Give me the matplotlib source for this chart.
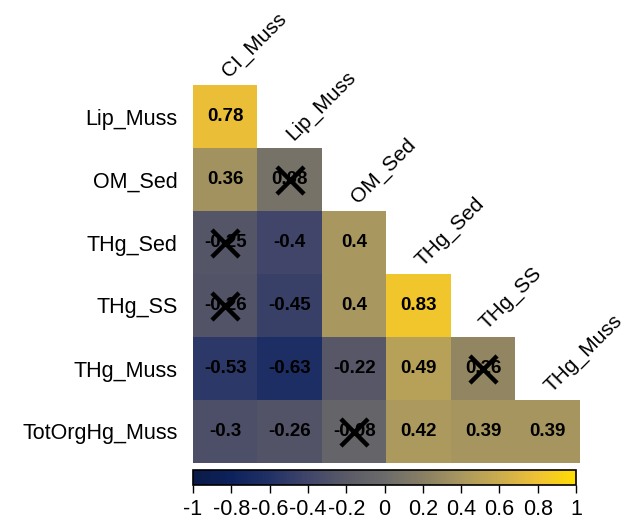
import matplotlib
matplotlib.use('Agg')
import matplotlib.pyplot as plt
from matplotlib.colors import LinearSegmentedColormap
import numpy as np

plt.rcParams['font.family'] = ['Liberation Sans', 'DejaVu Sans']

# correlation data (lower triangle)
row_names = ['Lip_Muss', 'OM_Sed', 'THg_Sed', 'THg_SS', 'THg_Muss', 'TotOrgHg_Muss']
col_names = ['CI_Muss', 'Lip_Muss', 'OM_Sed', 'THg_Sed', 'THg_SS', 'THg_Muss']
r_lip_muss = [0.78]
r_om_sed = [0.36, 0.08]
r_thg_sed = [-0.25, -0.4, 0.4]
r_thg_ss = [-0.26, -0.45, 0.4, 0.83]
r_thg_muss = [-0.53, -0.63, -0.22, 0.49, 0.26]
r_totorghg = [-0.3, -0.26, -0.08, 0.42, 0.39, 0.39]
# cells that are not significant (row, col)
not_sig = [(1, 1), (2, 0), (3, 0), (4, 4), (5, 2)]
cbar_ticks = [-1, -0.8, -0.6, -0.4, -0.2, 0, 0.2, 0.4, 0.6, 0.8, 1]

rows = [r_lip_muss, r_om_sed, r_thg_sed, r_thg_ss, r_thg_muss, r_totorghg]
n = len(row_names)
mat = np.full((n, n), np.nan)
for i, r in enumerate(rows):
    mat[i, :len(r)] = r
mat = np.ma.masked_invalid(mat)

stops = [(0.0, '#0a1a48'), (0.1, '#0d225c'), (0.2, '#213166'), (0.3, '#41466a'),
         (0.4, '#5a5a67'), (0.5, '#6b6b6b'), (0.6, '#877e64'), (0.7, '#a8975f'),
         (0.8, '#caac4e'), (0.9, '#efc136'), (1.0, '#ffdc00')]
cmap = LinearSegmentedColormap.from_list('navy_gold', stops)
cmap.set_bad('white')

W, H = 629, 521
fig = plt.figure(figsize=(W / 100, H / 100), dpi=100)
ax = fig.add_axes([193 / W, (H - 463) / H, 387 / W, 378 / H])
im = ax.imshow(mat, cmap=cmap, vmin=-1, vmax=1, aspect='auto',
               extent=(-0.5, n - 0.5, n - 0.5, -0.5), interpolation='nearest')
ax.set_xlim(-0.5, n - 0.5)
ax.set_ylim(n - 0.5, -0.5)
for s in ax.spines.values():
    s.set_visible(False)
ax.set_xticks([])
ax.set_yticks(range(n))
ax.set_yticklabels(row_names, fontsize=15.5)
ax.tick_params(axis='y', length=0, pad=11)

# coefficient labels
for i, r in enumerate(rows):
    for j, v in enumerate(r):
        ax.text(j, i, f'{v:g}', ha='center', va='center', fontsize=13.5,
                fontweight='bold', color='black')

# crosses over non-significant cells
xs = [c for (r, c) in not_sig]
ys = [r for (r, c) in not_sig]
ax.scatter(xs, ys, marker='x', s=380, c='black', linewidths=3.2, zorder=5)

# column names along the diagonal
for j, name in enumerate(col_names):
    ax.text(j + 0.1, j - 0.56, name, rotation=45, rotation_mode='anchor',
            ha='left', va='bottom', fontsize=15, clip_on=False)

cax = fig.add_axes([193 / W, (H - 485) / H, 383 / W, 15 / H])
cb = fig.colorbar(im, cax=cax, orientation='horizontal', ticks=cbar_ticks)
cb.ax.set_xticklabels([f'{t:g}' for t in cbar_ticks], fontsize=15.5)
cb.ax.tick_params(length=6, width=1, pad=4, color='black')
cb.outline.set_linewidth(1.2)

fig.savefig('out.png', dpi=100)
